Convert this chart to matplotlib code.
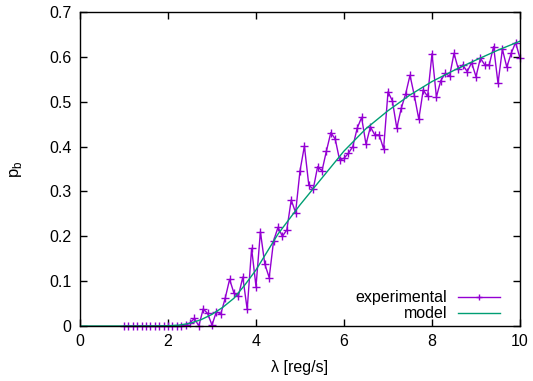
"""
Blocking probability vs arrival rate: experimental points against the model curve.
gnuplot-style look (full frame, inward ticks, right-aligned key bottom-right).
"""

import matplotlib
matplotlib.use("Agg")
import matplotlib.pyplot as plt

plt.rcParams["font.family"] = ["Liberation Sans", "DejaVu Sans"]

# --- data -------------------------------------------------------------------
exp_x = [round(1.0 + 0.1 * i, 1) for i in range(91)]  # 1.0 .. 10.0, step 0.1
exp_y = [
    0, 0, 0, 0, 0, 0, 0, 0, 0, 0, 0, 0, 0, 0,           # 1.0 - 2.3
    0.002, 0.007, 0.017, 0.0, 0.038, 0.028,             # 2.4 - 2.9
    0.002, 0.032, 0.027, 0.062, 0.104, 0.073, 0.067, 0.109, 0.037, 0.173,  # 3.x
    0.088, 0.210, 0.138, 0.108, 0.190, 0.220, 0.200, 0.214, 0.281, 0.253,  # 4.x
    0.346, 0.401, 0.314, 0.305, 0.355, 0.346, 0.390, 0.431, 0.417, 0.370,  # 5.x
    0.374, 0.385, 0.400, 0.441, 0.465, 0.405, 0.444, 0.426, 0.426, 0.395,  # 6.x
    0.522, 0.502, 0.441, 0.485, 0.517, 0.559, 0.513, 0.461, 0.526, 0.512,  # 7.x
    0.607, 0.511, 0.547, 0.563, 0.557, 0.608, 0.572, 0.582, 0.567, 0.587,  # 8.x
    0.556, 0.597, 0.582, 0.582, 0.623, 0.541, 0.617, 0.577, 0.608, 0.632,  # 9.x
    0.597,                                                                  # 10.0
]

model_x = [0, 0.5, 1.0, 1.5, 2.0, 2.25, 2.5, 2.75, 3.0, 3.25, 3.5, 3.75, 4.0,
           4.5, 5.0, 5.5, 6.0, 6.5, 7.0, 7.5, 8.0, 8.5, 9.0, 9.5, 10.0]
model_y = [0, 0, 0, 0, 0.0005, 0.002, 0.006, 0.014, 0.026, 0.042, 0.062, 0.092, 0.125,
           0.205, 0.270, 0.330, 0.390, 0.440, 0.480, 0.515, 0.545, 0.570, 0.593, 0.615, 0.635]

x_ticks = [0, 2, 4, 6, 8, 10]
y_ticks = [0, 0.1, 0.2, 0.3, 0.4, 0.5, 0.6, 0.7]

purple = "#9400D3"
green = "#009E73"

# --- figure -------------------------------------------------------------------
fig = plt.figure(figsize=(5.33, 3.81), dpi=100)
ax = fig.add_axes([80 / 533, 55 / 381, 440 / 533, 314 / 381])

ax.plot(exp_x, exp_y, color=purple, lw=1.0, marker="+", ms=6, mew=1.0, clip_on=False)
ax.plot(model_x, model_y, color=green, lw=1.0)

ax.set_xlim(0, 10)
ax.set_ylim(0, 0.7)
ax.set_xticks(x_ticks)
ax.set_xticklabels([str(t) for t in x_ticks])
ax.set_yticks(y_ticks)
ax.set_yticklabels(["0"] + [f"{t:.1f}" for t in y_ticks[1:]])
ax.tick_params(direction="in", length=5, width=1, top=True, right=True,
               labelsize=11.5, pad=6)
for s in ax.spines.values():
    s.set_linewidth(1.0)

ax.set_xlabel("λ [reg/s]", fontsize=11.5, labelpad=8)
ax.set_ylabel(r"p$_\mathregular{b}$", fontsize=12, labelpad=18)

# gnuplot-style key: right-aligned labels with sample to the right
key = [("experimental", purple, "+", 0.092), ("model", green, None, 0.041)]
for label, col, mk, yk in key:
    ax.text(0.835, yk, label, transform=ax.transAxes, ha="right", va="center",
            fontsize=11.5)
    ax.plot([0.859, 0.955], [yk, yk], transform=ax.transAxes, color=col, lw=1.0,
            clip_on=False)
    if mk:
        ax.plot([0.907], [yk], transform=ax.transAxes, color=col, marker=mk,
                ms=4, mew=1.0, clip_on=False)

fig.savefig("out.png", dpi=100)
